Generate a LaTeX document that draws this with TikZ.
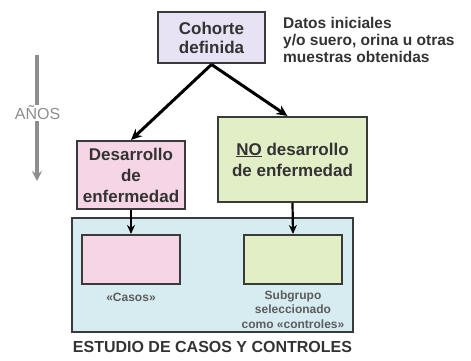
\documentclass[tikz,border=0pt]{standalone}
\usepackage{fontspec}
\setmainfont{Liberation Sans}
\usetikzlibrary{arrows.meta}
\definecolor{lila}{HTML}{E7E3F5}
\definecolor{rosa}{HTML}{F6D6E6}
\definecolor{verde}{HTML}{E1EEC6}
\definecolor{celeste}{HTML}{D6ECF1}
\definecolor{borde}{HTML}{3A3A3A}
\definecolor{texto}{HTML}{333333}
\definecolor{gris}{HTML}{8E8E8E}
\begin{document}
\begin{tikzpicture}[x=1pt,y=-1pt,>={Stealth[length=11pt,width=10pt]},
		caja/.style={draw=borde,line width=2pt,inner sep=0pt,text=texto,align=center,font=\bfseries\fontsize{17}{21}\selectfont},
		flecha/.style={->,line width=3pt},
		bajada/.style={-{Stealth[length=9pt,width=8pt]},line width=2.2pt},
		nota/.style={text=texto,font=\bfseries\fontsize{12}{14.5}\selectfont,align=center,inner sep=0pt}]
			\useasboundingbox (0,0) rectangle (471,361);
			\node[caja,fill=lila,minimum width=107pt,minimum height=51pt,font=\bfseries\fontsize{17}{19}\selectfont] (coh) at (211.5,38) {Cohorte\\definida};
			\node[text=texto,align=left,anchor=west,inner sep=0pt,font=\bfseries\fontsize{15.5}{17}\selectfont] (datos) at (283,40) {Datos iniciales\\y/o suero, orina u otras\\muestras obtenidas};
			\node[caja,fill=rosa,minimum width=108pt,minimum height=68pt] (enf) at (131,175) {Desarrollo\\de\\enfermedad};
			\node[caja,fill=verde,minimum width=149pt,minimum height=85pt] (noenf) at (292.5,159.5) {\underline{NO} desarrollo\\de enfermedad};
			\node[caja,fill=celeste,minimum width=281pt,minimum height=114pt] (estudio) at (212.5,275) {};
			\node[caja,fill=rosa,minimum width=98pt,minimum height=49pt] (casos) at (131,259.5) {};
			\node[caja,fill=verde,minimum width=98pt,minimum height=49pt] (control) at (293,259.5) {};
			\node[nota,text=texto!80] (lcasos) at (131,297) {«Casos»};
			\node[nota,text=texto!80] (lcontrol) at (293,309.5) {Subgrupo\\seleccionado\\como «controles»};
			\node[text=texto,inner sep=0pt,font=\bfseries\fontsize{16}{18}\selectfont] (titulo) at (212.5,347) {ESTUDIO DE CASOS Y CONTROLES};
			\path (37,55) coordinate (t0);
			\path (37,181) coordinate (t1);
			\draw[-{Stealth[length=10pt,width=10pt]},gris,line width=4pt] (t0) -- (t1);
			\node[fill=white,text=gris,inner sep=1pt,font=\fontsize{16}{18}\selectfont] (anos) at (37.5,113) {AÑOS};
			\draw[flecha] (coh.south) -- (enf.north);
			\draw[flecha] (coh.south) -- ([xshift=-5pt]noenf.north);
			\draw[bajada] (enf.south) -- (casos.north);
			\draw[bajada] (noenf.south) -- (control.north);
		\end{tikzpicture}
\end{document}
